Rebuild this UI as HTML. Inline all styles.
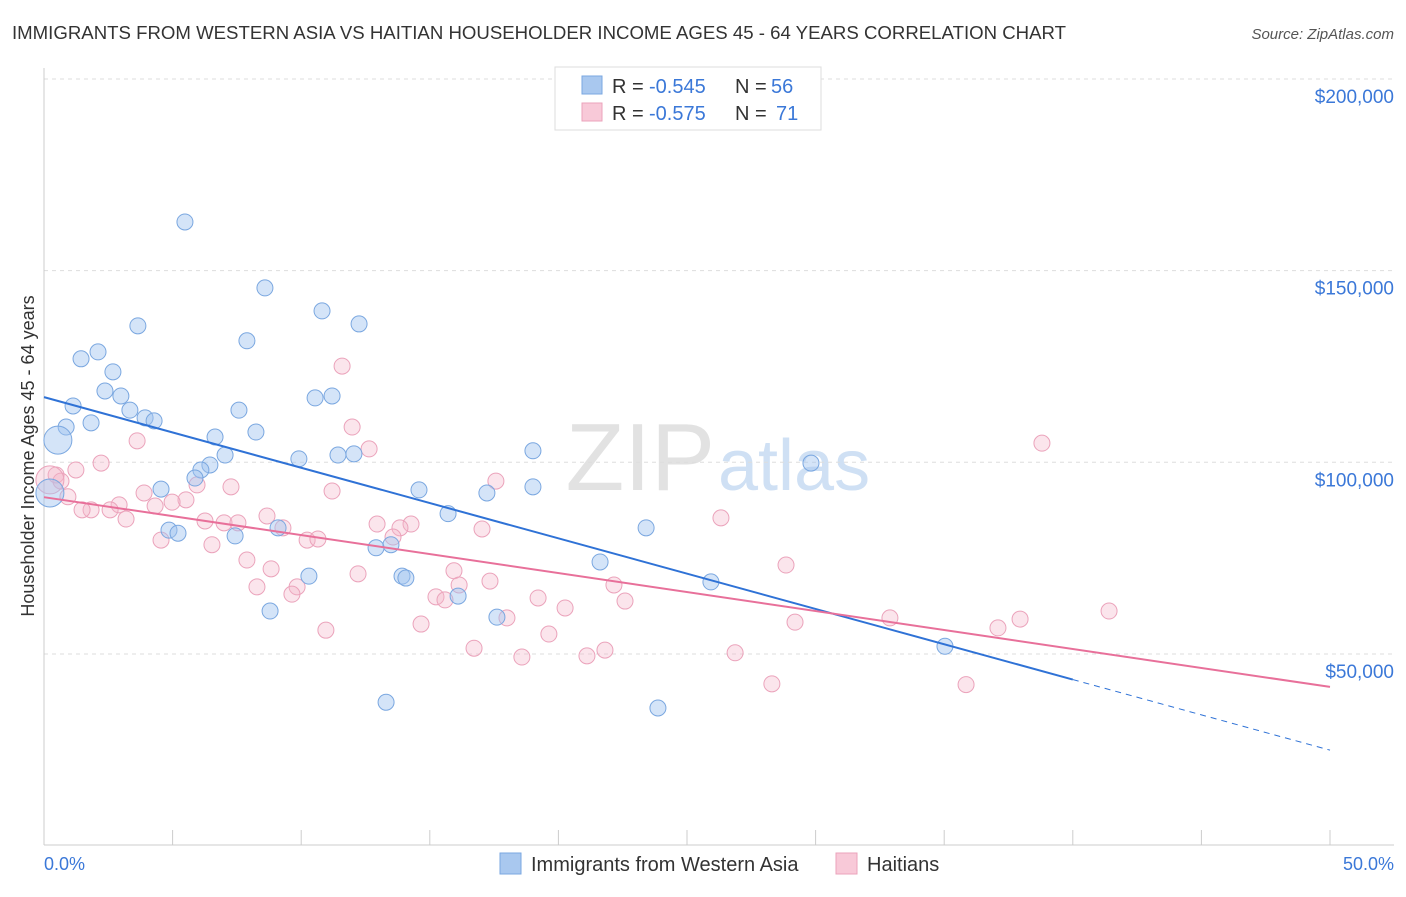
<!DOCTYPE html>
<html><head><meta charset="utf-8"><style>
body{margin:0;background:#fff;font-family:"Liberation Sans",sans-serif;}
svg text{font-family:"Liberation Sans",sans-serif;}
</style></head><body>
<svg id="chart" width="1406" height="892" xmlns="http://www.w3.org/2000/svg">
<text x="12" y="39" font-size="18" fill="#333" textLength="1054" lengthAdjust="spacingAndGlyphs">IMMIGRANTS FROM WESTERN ASIA VS HAITIAN HOUSEHOLDER INCOME AGES 45 - 64 YEARS CORRELATION CHART</text>
<text x="1394" y="39" font-size="15" fill="#555" text-anchor="end" font-style="italic">Source: ZipAtlas.com</text>
<text x="715" y="490" font-size="96" fill="#e2e2e2" text-anchor="end" font-family="Liberation Serif">ZIP</text>
<text x="718" y="490" font-size="72" fill="#cfe0f4">atlas</text>
<g id="grid"></g>
<g id="axes"></g>
<g id="marks"></g>
<text transform="translate(34,456) rotate(-90)" font-size="18" fill="#333" text-anchor="middle">Householder Income Ages 45 - 64 years</text>
<text x="44" y="870" font-size="18" fill="#3b78d8">0.0%</text>
<text x="1394" y="870" font-size="18" fill="#3b78d8" text-anchor="end">50.0%</text>
<g>
<rect x="555" y="67" width="266" height="63" fill="#fff" stroke="#ddd"/>
<rect x="582" y="76" width="20" height="18" fill="#a9c8ef" stroke="#7aa7e0"/>
<rect x="582" y="103" width="20" height="18" fill="#f8c9d8" stroke="#eba3bb"/>
<text x="612" y="93" font-size="20" fill="#333">R =</text>
<text x="649" y="93" font-size="20" fill="#3b78d8">-0.545</text>
<text x="735" y="93" font-size="20" fill="#333">N =</text>
<text x="771" y="93" font-size="20" fill="#3b78d8">56</text>
<text x="612" y="120" font-size="20" fill="#333">R =</text>
<text x="649" y="120" font-size="20" fill="#3b78d8">-0.575</text>
<text x="735" y="120" font-size="20" fill="#333">N =</text>
<text x="776" y="120" font-size="20" fill="#3b78d8">71</text>
</g>
<g>
<rect x="500" y="853" width="21" height="21" fill="#a9c8ef" stroke="#7aa7e0"/>
<text x="531" y="871" font-size="20" fill="#333">Immigrants from Western Asia</text>
<rect x="836" y="853" width="21" height="21" fill="#f8c9d8" stroke="#eba3bb"/>
<text x="867" y="871" font-size="20" fill="#333">Haitians</text>
</g>
</svg>
<script>
const yTicks=[50000,100000,150000,200000];
const yTickLabels=["$50,000","$100,000","$150,000","$200,000"];
const blueX=[5.48,8.59,10.81,12.25,3.65,7.89,2.10,1.44,2.68,2.37,2.99,11.20,10.54,1.13,3.34,7.58,3.93,4.28,1.83,0.86,0.54,8.24,6.65,19.01,7.04,12.05,11.43,9.91,29.82,6.45,6.10,5.87,14.58,17.22,19.01,4.55,0.23,15.71,4.86,5.21,7.43,9.10,23.41,12.91,13.49,21.62,10.30,13.92,14.07,25.93,8.79,16.10,17.61,35.03,13.30,23.87];
const blueY=[162700,145500,139500,136100,135600,131700,128800,127000,123600,118600,117300,117300,116800,114700,113600,113600,111600,110800,110300,109200,105800,107900,106600,103000,101900,102200,101900,100900,99800,99300,98000,95900,92800,92000,93600,93000,92000,86600,82300,81500,80800,82900,82900,77700,78500,74000,70300,70300,69800,68800,61200,65100,59600,52000,37400,35900];
const blueR=[8,8,8,8,8,8,8,8,8,8,8,8,8,8,8,8,8,8,8,8,14,8,8,8,8,8,8,8,8,8,8,8,8,8,8,8,14,8,8,8,8,8,8,8,8,8,8,8,8,8,8,8,8,8,8,8];
const pinkX=[11.59,3.62,11.98,12.64,38.80,2.22,1.24,0.47,0.66,5.95,17.57,7.27,11.20,3.89,5.52,0.93,4.98,2.92,1.83,1.48,2.57,4.32,3.19,8.67,26.32,6.26,7.00,7.54,12.95,14.27,9.29,13.84,17.03,4.55,10.23,10.65,6.53,13.57,7.89,28.85,8.83,12.21,15.94,17.34,8.28,16.14,9.84,22.16,9.64,15.24,15.59,19.21,22.59,20.26,32.89,41.41,37.95,18.00,14.66,10.96,29.20,37.09,19.63,16.72,21.81,21.11,18.58,26.87,28.30,35.85,0.23];
const pinkY=[125100,105600,109200,103500,105000,99800,98000,96700,95100,94100,95100,93600,92500,92000,90200,91000,89600,88900,87600,87600,87600,88600,85200,86000,85500,84700,84200,84200,83900,83900,82900,82900,82600,79700,79700,80000,78500,80500,74500,73200,72200,70900,71700,69000,67500,68000,67500,68000,65600,64900,64100,64600,63800,62000,59400,61200,59100,59400,57800,56200,58300,56800,55200,51500,51000,49500,49200,50300,42200,42000,95400];
const blueLine=[117000,24900];
const pinkLine=[90900,41400];
const NS="http://www.w3.org/2000/svg";
const xS=v=>44+v*25.72;
const yS=v=>79+(200000-v)*0.003833;
function mk(tag,attrs,parent){const e=document.createElementNS(NS,tag);for(const k in attrs)e.setAttribute(k,attrs[k]);parent.appendChild(e);return e;}
const grid=document.getElementById('grid'),axes=document.getElementById('axes'),marks=document.getElementById('marks');
yTicks.forEach((t,i)=>{
 const l=mk('line',{x1:44,x2:1394,y1:yS(t),y2:yS(t),stroke:'#ddd','stroke-dasharray':'4,4'},grid);
 
 
 const tx=mk('text',{x:1394,y:yS(t)+24,'font-size':19,fill:'#3b78d8','text-anchor':'end'},axes);
 tx.textContent=yTickLabels[i];
 
 
});
const xa=mk('line',{x1:44,x2:1394,y1:845,y2:845,stroke:'#ccc'},axes);


const ya=mk('line',{x1:44,x2:44,y1:68,y2:845,stroke:'#ccc'},axes);


for(let i=0;i<=10;i++){
 const tk=mk('line',{x1:xS(i*5),x2:xS(i*5),y1:830,y2:845,stroke:'#ccc'},axes);
 
 
}
pinkX.forEach((x,i)=>{
 const c=mk('circle',{cx:xS(x),cy:yS(pinkY[i]),r:i==pinkX.length-1?14:8,fill:'rgba(244,180,200,0.35)',stroke:'#eba3bb','stroke-width':1},marks);
 
 
});
blueX.forEach((x,i)=>{
 const c=mk('circle',{cx:xS(x),cy:yS(blueY[i]),r:blueR[i],fill:'rgba(160,196,240,0.45)',stroke:'#7aa7e0','stroke-width':1},marks);
 
 
});
const bAt=x=>blueLine[0]+(blueLine[1]-blueLine[0])*x/50;
const b1=mk('line',{x1:xS(0),y1:yS(bAt(0)),x2:xS(40),y2:yS(bAt(40)),stroke:'#2f72d6','stroke-width':2},marks);


const b2=mk('line',{x1:xS(40),y1:yS(bAt(40)),x2:xS(50),y2:yS(bAt(50)),stroke:'#2f72d6','stroke-width':1,'stroke-dasharray':'6,5'},marks);


const p1=mk('line',{x1:xS(0),y1:yS(pinkLine[0]),x2:xS(50),y2:yS(pinkLine[1]),stroke:'#e8709a','stroke-width':2},marks);


</script>
</body></html>
